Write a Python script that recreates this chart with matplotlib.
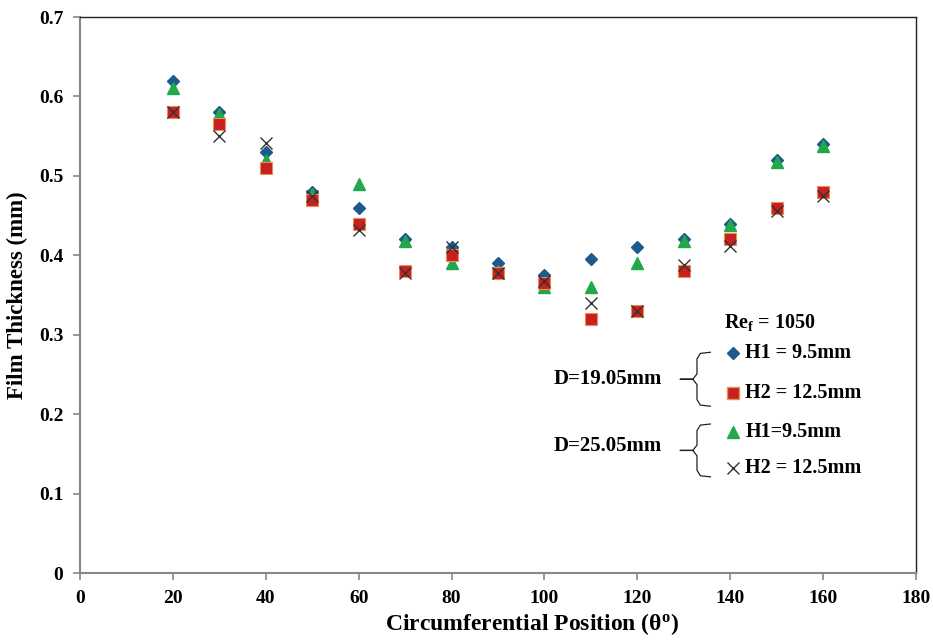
import numpy as np
import matplotlib.pyplot as plt
from matplotlib.lines import Line2D

# circumferential positions (deg)
theta = [20, 30, 40, 50, 60, 70, 80, 90, 100, 110, 120, 130, 140, 150, 160]

# D = 19.05 mm
d19_h1 = [0.620, 0.580, 0.530, 0.480, 0.460, 0.420, 0.410, 0.390, 0.375, 0.395, 0.410, 0.420, 0.440, 0.520, 0.540]
d19_h2 = [0.580, 0.565, 0.510, 0.470, 0.440, 0.380, 0.400, 0.378, 0.365, 0.320, 0.330, 0.380, 0.420, 0.460, 0.480]
# D = 25.05 mm
d25_h1 = [0.610, 0.578, 0.520, 0.477, 0.490, 0.418, 0.390, 0.380, 0.360, 0.360, 0.390, 0.418, 0.438, 0.518, 0.538]
d25_h2 = [0.580, 0.550, 0.542, 0.475, 0.432, 0.378, 0.410, 0.378, 0.368, 0.340, 0.330, 0.388, 0.412, 0.456, 0.475]

xticks = list(range(0, 181, 20))
yticks = [0, 0.1, 0.2, 0.3, 0.4, 0.5, 0.6, 0.7]

plt.rcParams['font.family'] = ['Liberation Serif', 'DejaVu Serif']
plt.rcParams['font.weight'] = 'bold'
plt.rcParams['mathtext.fontset'] = 'custom'
plt.rcParams['mathtext.rm'] = 'Liberation Serif:bold'
plt.rcParams['mathtext.it'] = 'Liberation Serif:bold'
plt.rcParams['mathtext.bf'] = 'Liberation Serif:bold'

fig = plt.figure(figsize=(9.33, 6.44), dpi=100)
ax = fig.add_axes([0.0857, 0.1102, 0.8961, 0.8634])

blue = '#1f5a8e'
red = '#c8201f'
green = '#21a84a'

ax.plot(theta, d19_h1, linestyle='none', marker='D', ms=6, color=blue, mec=blue, zorder=3)
ax.plot(theta, d25_h1, linestyle='none', marker='^', ms=8, color=green, mec=green, zorder=4)
ax.plot(theta, d19_h2, linestyle='none', marker='s', ms=8, color=red, mec='#e8905a', mew=0.8, zorder=5)
ax.plot(theta, d25_h2, linestyle='none', marker='x', ms=8, color='#333333', mew=1.0, zorder=6)

ax.set_xlim(0, 180)
ax.set_ylim(0, 0.7)
ax.set_xticks(xticks)
ax.set_yticks(yticks)
ax.set_yticklabels(['0', '0.1', '0.2', '0.3', '0.4', '0.5', '0.6', '0.7'])
ax.tick_params(labelsize=14, direction='out', length=5, color='#888888', width=1.2, pad=7)
for lab in ax.get_xticklabels() + ax.get_yticklabels():
    lab.set_fontweight('bold')

ax.spines['left'].set_color('#888888')
ax.spines['left'].set_linewidth(1.5)
ax.spines['bottom'].set_color('#888888')
ax.spines['bottom'].set_linewidth(1.5)
ax.spines['top'].set_color('#222222')
ax.spines['top'].set_linewidth(1.0)
ax.spines['right'].set_color('#222222')
ax.spines['right'].set_linewidth(1.0)

ax.set_xlabel('Circumferential Position (θ$^{\\mathrm{o}}$)', fontsize=17, fontweight='bold')
ax.xaxis.set_label_coords(0.541, -0.092, transform=ax.transAxes)
ax.xaxis.label.set_va('center')
ax.set_ylabel('Film Thickness (mm)', fontsize=16.5, fontweight='bold', labelpad=8)

# custom legend
tr = ax.transAxes
ax.text(0.770, 0.451, 'Re$_{\\mathrm{f}}$ = 1050', transform=tr, fontsize=14.5, fontweight='bold', va='center')

rows = [
    (0.396, 'D', 6, blue, blue, 'H1 = 9.5mm'),
    (0.324, 's', 8, red, '#e8905a', 'H2 = 12.5mm'),
    (0.254, '^', 8, green, green, 'H1=9.5mm'),
    (0.189, 'x', 8, '#333333', '#333333', 'H2 = 12.5mm'),
]
for y, m, ms, c, ec, label in rows:
    ax.add_line(Line2D([0.781], [y], transform=tr, marker=m, ms=ms, color=c, mec=ec,
                       linestyle='none', clip_on=False))
    ax.text(0.796, y, label, transform=tr, fontsize=14.5, fontweight='bold', va='center')

ax.text(0.566, 0.349, 'D=19.05mm', transform=tr, fontsize=15, fontweight='bold', va='center')
ax.text(0.566, 0.228, 'D=25.05mm', transform=tr, fontsize=15, fontweight='bold', va='center')


def brace(top, bot):
    mid = (top + bot) / 2
    xv, xr, xl = 0.738, 0.754, 0.718
    d = 0.012
    xs = [xr, xv + 0.004, xv, xv, xv - 0.005, xl, xv - 0.005, xv, xv, xv + 0.004, xr]
    ys = [top, top - 0.002, top - d, mid + d * 0.8, mid, mid, mid, mid - d * 0.8, bot + d, bot + 0.002, bot]
    ax.add_line(Line2D(xs, ys, transform=tr, color='#222222', lw=0.9, clip_on=False))


brace(0.397, 0.300)
brace(0.268, 0.173)

plt.savefig('out.png', dpi=100)
plt.close()
